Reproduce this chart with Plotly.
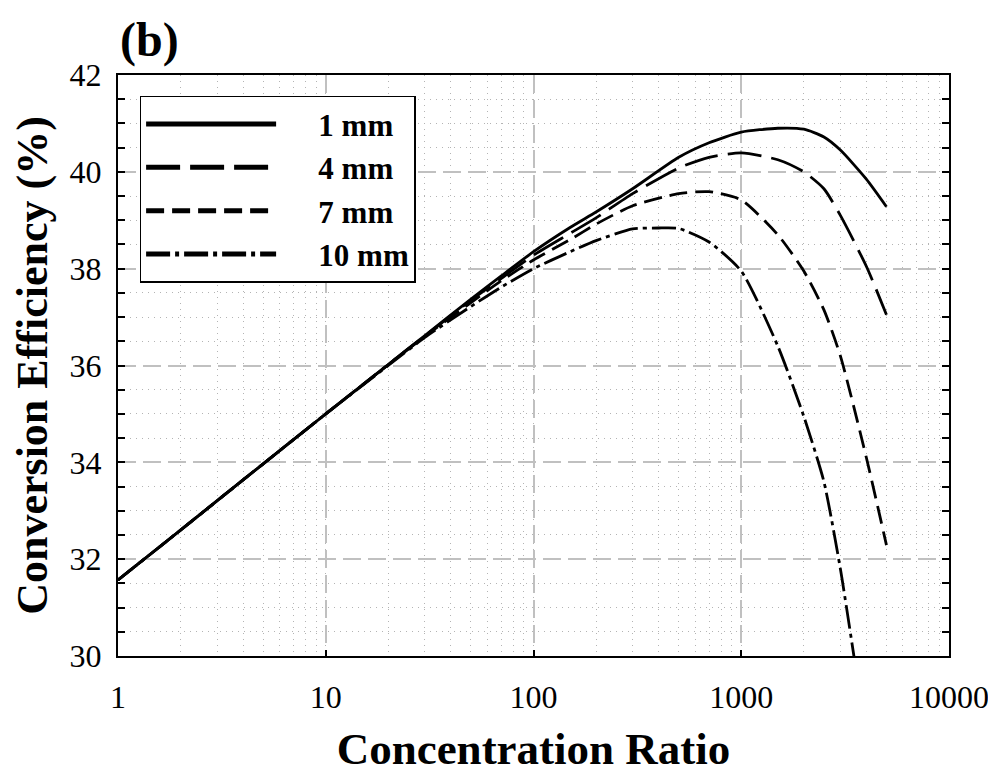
import plotly.graph_objects as go

ratio = [1, 2, 5, 10, 20, 30, 50, 70, 100, 150, 200, 300, 500, 700, 1000, 1500, 2000, 2500, 3000, 4000, 5000]
eff_1mm = [31.57, 32.6, 33.97, 35.0, 36.02, 36.62, 37.37, 37.85, 38.35, 38.85, 39.17, 39.65, 40.3, 40.6, 40.82, 40.9, 40.88, 40.72, 40.45, 39.85, 39.28]
eff_4mm = [31.57, 32.6, 33.97, 35.0, 36.02, 36.61, 37.35, 37.8, 38.28, 38.73, 39.05, 39.55, 40.08, 40.3, 40.39, 40.25, 40.0, 39.65, 39.1, 38.05, 37.05]
eff_7mm = [31.57, 32.6, 33.97, 35.0, 36.02, 36.6, 37.3, 37.75, 38.18, 38.6, 38.92, 39.3, 39.55, 39.59, 39.42, 38.7, 37.95, 37.15, 36.2, 34.1, 32.29]
ratio_10mm = [1, 2, 5, 10, 20, 30, 50, 70, 100, 150, 200, 300, 400, 500, 700, 1000, 1500, 2000, 2500, 3000, 3600]
eff_10mm = [31.57, 32.6, 33.97, 35.0, 36.0, 36.58, 37.22, 37.62, 38.0, 38.35, 38.58, 38.82, 38.84, 38.83, 38.55, 37.95, 36.4, 34.95, 33.6, 31.8, 29.6]

labels = ["1 mm", "4 mm", "7 mm", "10 mm"]
x_tickvals = [1, 10, 100, 1000, 10000]
x_ticktext = ["1", "10", "100", "1000", "10000"]
dashes = ["solid", "34px,10px", "18px,8px", "24px,5px,4px,5px"]

fig = go.Figure()
series = [(ratio, eff_1mm), (ratio, eff_4mm), (ratio, eff_7mm), (ratio_10mm, eff_10mm)]
for (xs, ys), lab, d in zip(series, labels, dashes):
    fig.add_trace(go.Scatter(x=xs, y=ys, mode="lines", name="\u2002\u2002\u2009" + lab,
                             line=dict(color="black", width=2.8, dash=d, shape="spline", smoothing=0.6)))

font_family = "Liberation Serif"
grid_major = "#c0c0c0"
grid_minor = "#b4b4b4"
fig.update_layout(
    width=996, height=774,
    margin=dict(l=110, r=55, t=67, b=126),
    paper_bgcolor="white", plot_bgcolor="white",
    font=dict(family=font_family, color="black", size=32),
    showlegend=True,
    legend=dict(x=0.026, y=0.964, xanchor="left", yanchor="top",
                bgcolor="white", bordercolor="black", borderwidth=1.5,
                font=dict(family=font_family, size=31, color="black", weight="bold"),
                itemwidth=130, tracegroupgap=0, itemsizing="constant"),
    annotations=[dict(text="<b>(b)</b>", x=0, y=1.0, xref="paper", yref="paper",
                      xanchor="left", yanchor="bottom", yshift=6, showarrow=False,
                      font=dict(family=font_family, size=48, color="black"))],
)
fig.update_xaxes(type="log", range=[0, 4], tickvals=x_tickvals, ticktext=x_ticktext,
                 automargin=False,
                 showline=True, linecolor="black", linewidth=2, mirror=True,
                 ticks="inside", ticklen=6, tickwidth=1.5, tickcolor="black",
                 ticklabelstandoff=12,
                 showgrid=True, gridcolor=grid_major, griddash="18px,7px", gridwidth=1.5,
                 tickfont=dict(size=32), zeroline=False,
                 title=dict(text="<b>Concentration Ratio</b>", font=dict(size=45), standoff=18),
                 minor=dict(dtick="D1", showgrid=True, gridcolor=grid_minor, griddash="1px,5px", gridwidth=1, ticks=""))
fig.update_yaxes(range=[30, 42], dtick=2,
                 automargin=False,
                 showline=True, linecolor="black", linewidth=2, mirror="allticks",
                 ticks="inside", ticklen=7, tickwidth=1.5, tickcolor="black",
                 ticklabelstandoff=8,
                 showgrid=True, gridcolor=grid_major, griddash="18px,7px", gridwidth=1.5,
                 tickfont=dict(size=32), zeroline=False,
                 title=dict(text="<b>Conversion Efficiency (%)</b>", font=dict(size=44), standoff=18),
                 minor=dict(dtick=0.5, showgrid=True, gridcolor=grid_minor, griddash="1px,5px", gridwidth=1,
                            ticks="inside", ticklen=7, tickcolor="black", tickwidth=1.5))

fig.write_html("out.html")
